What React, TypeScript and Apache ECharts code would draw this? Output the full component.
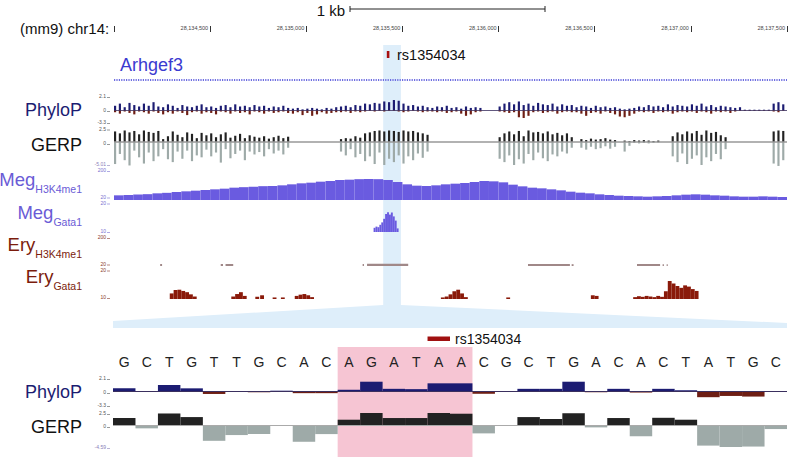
import React, { useEffect, useRef } from "react";
import * as echarts from "echarts";

// ---------------- data ----------------
const CHROM_START = 28134000;
const CHROM_END = 28137500;
const RULER_STEP = 500;
const BIN = 25; // bp per bin for conservation tracks
const SNP_POS = 28135425;
const HIGHLIGHT = [28135400, 28135492];

const phyloPos: (number | null)[] = [
  0.6, 0.9, 0.4, 1.0, 0.7, 0.5, 0.9, 0.6, 1.1, 0.5,
  0.4, 0.8, 0.6, 0.3, 0.7, 0.5, 0.4, 0.6, 0.8, 0.4,
  0.5, 0.3, 0.6, 0.7, 0.4, 0.8, 0.5, 0.6, 0.4, 0.7,
  0.5, 0.6, 0.3, 0.5, 0.4, 0.6, 0.3,
  0.2, 0.3, 0.1, 0.2, 0.3, 0.2, 0.1, 0.3, 0.2, 0.4,
  0.5, 0.6, 0.4, 0.7, 0.6, 0.9, 0.8, 1.0, 0.9, 1.2, 1.1, 1.4, 1.3, 0.9, 0.6, 0.7, 0.5, 0.6, 0.4,
  0.3, 0.5, 0.4, 0.6, 0.3, 0.4, 0.2, 0.5, 0.3, 0.4, 0.3,
  null, null, null,
  0.5, 0.9, 1.1, 0.8, 1.2, 0.7, 0.9, 0.6, 1.0, 0.8, 0.7, 0.9, 0.5, 0.8, 0.6, 0.7,
  0.4, 0.6, 0.5, 0.3, 0.6, 0.4, 0.5, 0.3, 0.4,
  0.2, 0.1, 0.2, 0.3,
  0.5, 0.4, 0.7, 0.5, 0.6, 0.4, 0.8, 0.5, 0.7, 0.6, 0.5, 0.8, 0.6, 0.9, 0.5, 0.7, 0.4, 0.6, 0.5, 0.4, 0.3, 0.4,
  0.05, 0.05, 0.05, 0.05, 0.05, 0.05,
  0.9, 1.1, 0.8,
];
const phyloNeg: (number | null)[] = [
  -0.3, -0.5, -0.2, -0.4, -0.6, -0.2, -0.3, -0.5, -0.2, -0.4,
  -0.6, -0.3, -0.5, -0.2, -0.4, -0.7, -0.3, -0.2, -0.5, -0.3,
  -0.4, -0.6, -0.2, -0.3, -0.5, -0.2, -0.4, -0.3, -0.6, -0.2,
  -0.3, -0.5, -0.2, -0.4, -0.3, -0.2, -0.4,
  -0.5, -0.3, -0.7, -0.4, -0.8, -0.6, -0.3, -0.5, -0.4, -0.3,
  -0.3, -0.2, -0.4, -0.2, -0.3, -0.2, -0.1, -0.2, -0.1, -0.2, -0.1, -0.1, -0.2, -0.3, -0.2, -0.1, -0.2, -0.3, -0.2,
  -0.2, -0.3, -0.2, -0.4, -0.3, -0.2, -0.5, -0.8, -0.6, -0.3, -0.2,
  null, null, null,
  -0.2, -0.3, -0.4, -0.3, -1.0, -1.1, -0.8, -0.3, -0.2, -0.4, -0.3, -0.2, -0.5, -0.3, -0.2, -0.3,
  -0.3, -0.5, -0.8, -0.4, -0.3, -0.5, -0.2, -0.4, -0.6,
  -0.9, -1.0, -0.8, -0.5,
  -0.2, -0.3, -0.2, -0.4, -0.2, -0.3, -0.2, -0.5, -0.3, -0.2, -0.3, -0.2, -0.4, -0.2, -0.3, -0.5, -0.2, -0.3, -0.2, -0.4, -0.2, -0.1,
  -0.05, -0.05, -0.05, -0.05, -0.05, -0.05,
  -0.2, -0.3, -0.1,
];
const gerpPos: (number | null)[] = [
  2.2, 1.8, 2.4, 2.0, 2.3, 1.6, 2.4, 2.1, 1.9, 2.3,
  0.6, 1.2, 2.2, 1.5, 1.0, 2.0, 1.7, 0.8, 1.9, 1.4,
  1.8, 1.0, 1.6, 2.0, 0.9, 1.3, 1.7, 0.8, 1.4, 1.1,
  0.9, 1.2, 0.7, 1.0, 1.3, 0.8, 1.1,
  null, null, null, null, null, null, null, null, null, null,
  0.6, 0.8, 0.7, 1.2, 0.9, 1.8, 2.0, 2.3, 2.4, 2.2, 2.4, 2.3, 2.1, 2.4, 2.2, 2.3, 2.0, 1.8, 1.5,
  null, null, null, null, null, null, null, null, null, null, null, null, null, null,
  1.0, 1.8, 2.2, 1.6, 2.3, 1.2, 2.4, 2.0, 2.1, 1.8, 2.2, 1.6, 1.9, 1.4, 1.8, 1.0,
  null,
  0.6, 0.4, 0.7, 0.5, 0.6, 0.8, 0.5, 0.4,
  null,
  0.3, 0.2, 0.4, 0.3, 0.4, 0.3, 0.2, 0.3,
  null, null,
  1.2, 2.0, 1.6, 2.2, 1.8, 2.3, 1.5, 2.4, 1.9, 2.1, 1.4, 1.0,
  null, null, null, null, null, null, null, null, null,
  2.2, 2.4, 2.3,
];
const gerpNeg: (number | null)[] = [
  -4.6, -2.5, -3.8, -4.9, -1.8, -3.2, -4.5, -2.2, -4.0, -3.0,
  -1.5, -3.6, -4.2, -2.0, -3.5, -1.8, -4.0, -2.8, -3.2, -1.6,
  -3.0, -2.2, -4.3, -1.5, -3.4, -2.5, -1.8, -3.8, -2.0, -2.6,
  -2.1, -3.0, -1.5, -2.4, -1.8, -2.6, -1.2,
  null, null, null, null, null, null, null, null, null, null,
  -2.0, -2.8, -1.5, -3.2, -2.5, -4.0, -3.0, -4.6, -2.2, -4.8, -3.5, -4.2, -2.8, -4.5, -3.0, -3.8, -2.4, -3.3, -2.0,
  null, null, null, null, null, null, null, null, null, null, null, null, null, null,
  -3.5, -4.2, -2.8, -4.8, -3.6, -4.5, -2.5, -3.8, -2.2, -3.4, -4.0, -2.6, -3.0, -2.0, -2.4, -1.2,
  null,
  -1.2, -1.6, -1.0, -1.5, -1.3, -0.9, -1.4, -1.0,
  null,
  -2.0, -0.8, -0.2, -0.3, -0.2, -0.3, -0.2, -0.1,
  null, null,
  -3.0, -4.2, -2.4, -4.6, -3.5, -2.8, -4.8, -3.2, -4.0, -2.5, -3.6, -1.5,
  null, null, null, null, null, null, null, null, null,
  -4.5, -5.0, -3.8,
];
const MEG_BIN = 50;
const megH3K4me1 = [
  48, 50, 53, 55, 60, 63, 68, 72,
  76, 80, 84, 88, 94, 97, 100, 103,
  104, 108, 114, 120, 124, 130, 134, 140,
  142, 145, 146, 145, 140, 128, 114, 106,
  104, 108, 114, 118, 122, 128, 134, 132,
  126, 112, 102, 94, 90, 84, 78, 70,
  64, 60, 54, 50, 46, 44, 42, 40,
  42, 44, 48, 52, 54, 52, 48, 46,
  42, 40, 40, 42, 40, 38,
];
// [offset bp, value], 10 bp bins
const megGata1 = [
  [1350, 11.4], [1360, 11.8], [1370, 11.6], [1380, 12.4], [1390, 13.2], [1400, 14.4], [1410, 16.0],
  [1420, 16.6], [1430, 15.8], [1440, 16.5], [1450, 15.2], [1460, 13.8], [1470, 11.2],
];
// [start offset, end offset, value]
const eryH3K4me1 = [
  [240, 250, 32], [555, 567, 32], [580, 620, 32], [1293, 1300, 32], [1316, 1530, 33],
  [2153, 2371, 32], [2380, 2390, 31], [2720, 2840, 32], [2853, 2860, 31], [2874, 2880, 31],
];
// [offset bp, value], 20 bp bins
const eryGata1 = [
  [290, 11.8], [310, 12.9], [330, 13.0], [350, 12.6], [370, 12.2], [390, 11.5], [410, 10.8],
  [610, 10.8], [630, 11.6], [650, 12.2], [670, 11.0],
  [735, 10.7], [760, 11.2], [825, 10.5], [868, 10.5],
  [940, 11.0], [960, 11.4], [980, 11.6], [1000, 11.2], [1020, 10.6],
  [1700, 10.5], [1720, 10.8], [1740, 11.5], [1760, 12.5], [1780, 13.0], [1800, 11.8], [1820, 10.6],
  [2040, 10.5],
  [2480, 11.2], [2500, 11.0],
  [2700, 10.6], [2720, 10.9], [2740, 10.7], [2760, 11.0], [2780, 10.8], [2800, 10.6], [2820, 11.0], [2840, 10.7],
  [2860, 12.5], [2880, 15.8], [2900, 15.0], [2920, 14.2], [2940, 13.6], [2960, 14.4], [2980, 14.0], [3000, 13.2], [3020, 12.6],
];

const bases = "GCTGTTGCACAGATAACGCTGACACTATGC".split("");
const phyloBase = [0.43, -0.05, 0.97, 0.43, -0.48, -0.15, -0.2, 0.05, -0.35, -0.35, 0.2, 1.5, 0.35, 0.3, 1.24, 1.24, -0.45, 0.02, 0.35, 0.35, 1.5, -0.2, 0.35, -0.25, 0.35, 0.12, -1.0, -0.8, -0.9, -0.1];
const gerpBase = [1.45, -0.7, 2.4, 1.65, -3.3, -2.1, -1.9, -0.2, -3.5, -1.9, 1.1, 2.5, 1.45, 1.45, 2.5, 2.35, -1.75, -0.15, 1.65, 1.25, 2.45, -0.5, 1.45, -2.35, 1.5, 1.1, -4.3, -4.59, -4.5, -0.85];
const HIGHLIGHT_BASES = [10, 15];
const SNP_BASE = 14;

// tiny track-scale labels: [text, y, colour]
const scaleLabels: [string, number, string][] = [
  ["2.1", 96, "#555"], ["0", 110, "#555"], ["-3.3", 122, "#555"],
  ["2.5", 128.5, "#555"], ["0", 143, "#555"], ["-5.01", 164, "#8a80b8"],
  ["200", 170, "#7a6fd0"], ["20", 196.5, "#7a6fd0"],
  ["20", 202.5, "#7a6fd0"], ["10", 231, "#7a6fd0"],
  ["200", 237, "#8a3a2a"], ["20", 263.5, "#8a3a2a"],
  ["20", 269.5, "#8a3a2a"], ["10", 297, "#8a3a2a"],
  ["2.1", 378, "#555"], ["0", 392, "#555"], ["-3.3", 405, "#555"],
  ["2.5", 413, "#555"], ["0", 426, "#555"], ["-4.59", 447, "#8a80b8"],
];

// ---------------- styling ----------------
const FONT = '"Liberation Sans", Arial, Helvetica, sans-serif';
const NAVY = "#1c1c72";
const DKRED = "#6e1e14";
const GERP_POS = "#222222";
const GERP_NEG = "#9eaaa8";
const MEG = "#6a5be0";
const MEG_TXT = "#6a5bd6";
const ERY = "#7b1c0c";
const ERY_SEG = "#a08888";

type Rect = [number, number, number];
const binned = (vals: (number | null)[], width: number, frac: number): Rect[] =>
  vals.flatMap((v, i) => (v == null ? [] : [[CHROM_START + i * width, CHROM_START + i * width + width * frac, v] as Rect]));
const pairs = (list: number[][], width: number): Rect[] =>
  list.map(([o, v]) => [CHROM_START + o, CHROM_START + o + width, v] as Rect);
const segs = (list: number[][]): Rect[] => list.map(([s, e, v]) => [CHROM_START + s, CHROM_START + e, v] as Rect);

function rectSeries(axis: number, rects: Rect[], base: number, color: string, extra: any = {}) {
  return {
    type: "custom",
    xAxisIndex: axis,
    yAxisIndex: axis,
    silent: true,
    encode: { x: [0, 1], y: 2 },
    data: rects,
    renderItem: (_p: any, api: any) => {
      const a = api.coord([api.value(0), api.value(2)]);
      const b = api.coord([api.value(1), base]);
      return {
        type: "rect",
        shape: {
          x: Math.min(a[0], b[0]),
          y: Math.min(a[1], b[1]),
          width: Math.max(Math.abs(b[0] - a[0]), 0.8),
          height: Math.max(Math.abs(b[1] - a[1]), 0.6),
        },
        style: { fill: color },
      };
    },
    ...extra,
  };
}

const zeroLine = (color: string, width: number) => ({
  silent: true,
  symbol: "none",
  label: { show: false },
  lineStyle: { color, width, type: "solid" },
  data: [{ yAxis: 0 }],
});

const LEFT = 114;
const RIGHT = 13;
const grids = [
  { top: 31, height: 1 },
  { top: 95, height: 28 },
  { top: 130, height: 36 },
  { top: 170, height: 30 },
  { top: 202, height: 30 },
  { top: 236, height: 30 },
  { top: 268, height: 31 },
  { top: 378, height: 26 },
  { top: 413, height: 34 },
].map((g, i) => ({ ...g, left: i >= 7 ? 113 : LEFT, right: RIGHT }));

const yRanges: [number, number][] = [
  [0, 1], [-1.8, 2.1], [-5.01, 2.5], [20, 200], [10, 20], [20, 200], [10, 20], [-2.1, 2.1], [-4.59, 2.5],
];

export default function App() {
  const ref = useRef<HTMLDivElement>(null);
  useEffect(() => {
    if (!ref.current) return;
    const chart = echarts.init(ref.current, undefined, { renderer: "svg" });
    const xAxes: any[] = [
      {
        gridIndex: 0, type: "value", min: CHROM_START, max: CHROM_END, interval: RULER_STEP, position: "top",
        axisLine: { show: false }, splitLine: { show: false },
        axisTick: { show: true, length: 6, lineStyle: { color: "#333", width: 1 } },
        axisLabel: {
          fontSize: 5.5, color: "#444", align: "right", margin: 0, padding: [0, 2, 0, 0],
          formatter: (v: number) => (v === CHROM_START ? "" : v.toLocaleString("en-US")),
        },
      },
    ];
    for (let i = 1; i <= 6; i++) xAxes.push({ gridIndex: i, type: "value", min: CHROM_START, max: CHROM_END, show: false });
    xAxes.push({
      gridIndex: 7, type: "category", data: bases, position: "top",
      axisLine: { show: false }, axisTick: { show: false }, splitLine: { show: false },
      axisLabel: { interval: 0, fontSize: 14, color: "#222", margin: 9, fontFamily: FONT },
    });
    xAxes.push({ gridIndex: 8, type: "category", data: bases, show: false });
    const yAxes = yRanges.map(([min, max], i) => ({ gridIndex: i, type: "value", min, max, show: false }));

    const series: any[] = [
      rectSeries(1, binned(phyloPos, BIN, 0.45), 0, NAVY, { markLine: zeroLine("#3a2f5e", 0.8) }),
      rectSeries(1, binned(phyloNeg, BIN, 0.45), 0, DKRED),
      rectSeries(2, binned(gerpNeg, BIN, 0.45), 0, GERP_NEG, { markLine: zeroLine("#999", 1.5) }),
      rectSeries(2, binned(gerpPos, BIN, 0.45), 0, GERP_POS),
      rectSeries(3, binned(megH3K4me1, MEG_BIN, 1), 20, MEG),
      rectSeries(4, pairs(megGata1, 10), 10, MEG),
      rectSeries(5, segs(eryH3K4me1), 20, ERY_SEG),
      rectSeries(6, pairs(eryGata1, 20), 10, "#8a1a0a"),
      {
        type: "bar", xAxisIndex: 7, yAxisIndex: 7, data: phyloBase, barCategoryGap: "0%", silent: true,
        itemStyle: { color: (p: any) => (p.value >= 0 ? NAVY : DKRED) },
        markLine: zeroLine("#3a2f5e", 1),
      },
      {
        type: "bar", xAxisIndex: 8, yAxisIndex: 8, data: gerpBase, barCategoryGap: "0%", silent: true,
        itemStyle: { color: (p: any) => (p.value >= 0 ? GERP_POS : GERP_NEG) },
        markLine: zeroLine("#aaa", 1),
      },
    ];

    chart.setOption({
      animation: false,
      backgroundColor: "#fff",
      textStyle: { fontFamily: FONT },
      grid: grids,
      xAxis: xAxes,
      yAxis: yAxes,
      series,
    });

    // layout of annotations from the chart's own scales
    const xp = (bp: number) => chart.convertToPixel({ xAxisIndex: 1 }, bp) as number;
    const bx = (i: number) => chart.convertToPixel({ xAxisIndex: 7 }, i) as number;
    const bw = bx(1) - bx(0);
    const h0 = xp(HIGHLIGHT[0]);
    const h1 = xp(HIGHLIGHT[1]);
    const panelL = bx(0) - bw / 2;
    const panelR = bx(bases.length - 1) + bw / 2;
    const pinkL = bx(HIGHLIGHT_BASES[0]) - bw / 2;
    const pinkR = bx(HIGHLIGHT_BASES[1]) + bw / 2;
    const snpX = xp(SNP_POS);
    const snpBL = bx(SNP_BASE) - bw / 2;

    const txt = (text: string, x: number, y: number, size: number, fill: string, align = "left", extra: any = {}) => ({
      type: "text", x, y, silent: true,
      style: { text, fontSize: size, fontFamily: FONT, fill, textAlign: align, textVerticalAlign: "middle", ...extra },
    });
    const richLabel = (main: string, sub: string, y: number, color: string) => ({
      type: "text", x: 82, y, silent: true,
      style: {
        text: `{a|${main}}{b|${sub}}`, textAlign: "right", textVerticalAlign: "middle", fontFamily: FONT,
        rich: {
          a: { fontSize: 18.5, fontFamily: FONT, fill: color, lineHeight: 30, verticalAlign: "middle" },
          b: { fontSize: 10.5, fontFamily: FONT, fill: color, lineHeight: 12, verticalAlign: "bottom" },
        },
      },
    });

    const graphics: any[] = [
      {
        type: "polygon", silent: true, z: -10,
        shape: {
          points: [[h0, 45], [h1, 45], [h1, 305], [panelR, 323], [panelR, 328], [panelL, 328], [panelL, 321], [h0, 305]],
        },
        style: { fill: "#deeefa" },
      },
      { type: "rect", silent: true, z: -10, shape: { x: pinkL, y: 347, width: pinkR - pinkL, height: 110 }, style: { fill: "#f6c5d3" } },
      // scale bar
      { type: "line", silent: true, shape: { x1: 350, y1: 9, x2: 545, y2: 9 }, style: { stroke: "#222", lineWidth: 1 } },
      { type: "line", silent: true, shape: { x1: 350, y1: 6, x2: 350, y2: 12 }, style: { stroke: "#222", lineWidth: 1 } },
      { type: "line", silent: true, shape: { x1: 545, y1: 6, x2: 545, y2: 12 }, style: { stroke: "#222", lineWidth: 1 } },
      txt("1 kb", 345, 10, 15, "#111", "right"),
      txt("(mm9) chr14:", 20, 28, 15, "#111"),
      // gene
      txt("Arhgef3", 120, 65, 18, "#3b3bd0"),
      { type: "line", silent: true, shape: { x1: LEFT, y1: 80, x2: 787, y2: 80 }, style: { stroke: "#6c6ce0", lineWidth: 2, lineDash: [1.2, 1.2] } },
      // SNP
      { type: "rect", silent: true, shape: { x: snpX - 1.2, y: 51, width: 2.6, height: 7 }, style: { fill: "#a81010" } },
      txt("rs1354034", snpX + 9, 55, 14.5, "#111"),
      { type: "rect", silent: true, shape: { x: snpBL, y: 336.5, width: bw, height: 4.5 }, style: { fill: "#a01010" } },
      txt("rs1354034", snpBL + bw + 5, 339, 14, "#111"),
      // track labels
      txt("PhyloP", 82, 110, 18, NAVY, "right"),
      txt("GERP", 82, 145, 18, "#111", "right"),
      richLabel("Meg", "H3K4me1", 179, MEG_TXT),
      richLabel("Meg", "Gata1", 212, MEG_TXT),
      richLabel("Ery", "H3K4me1", 244, ERY),
      richLabel("Ery", "Gata1", 276, ERY),
      txt("PhyloP", 82, 392, 18, NAVY, "right"),
      txt("GERP", 82, 427, 18, "#111", "right"),
    ];
    scaleLabels.forEach(([t, y, c]) => {
      graphics.push(txt(t, 106, y, 5, c, "right"));
      graphics.push({ type: "line", silent: true, shape: { x1: 107, y1: y + 1.5, x2: 110, y2: y + 1.5 }, style: { stroke: c, lineWidth: 0.6 } });
    });
    chart.setOption({ graphic: graphics });

    return () => chart.dispose();
  }, []);
  return <div ref={ref} style={{ position: "fixed", left: 0, top: 0, width: 800, height: 457, background: "#fff" }} />;
}
